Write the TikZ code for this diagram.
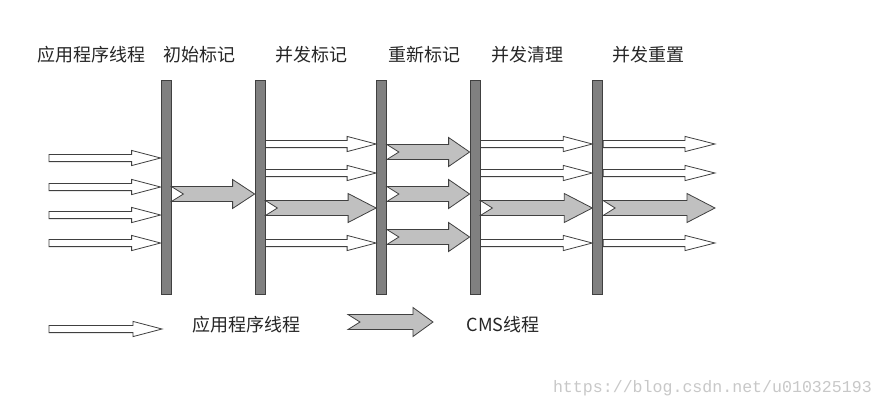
\documentclass[tikz,border=0pt]{standalone}
\usepackage{fontspec}
\setmainfont{Noto Sans CJK SC}
\newfontfamily\wmfont{Liberation Mono}
\usetikzlibrary{calc}
\definecolor{barfill}{HTML}{808080}
\definecolor{barline}{HTML}{404040}
\definecolor{cmsfill}{HTML}{C0C0C0}
\definecolor{arrline}{HTML}{404040}
\definecolor{wmgray}{HTML}{C8C8C8}
\tikzset{
  barbox/.style={rectangle, draw=barline, fill=barfill, line width=0.8pt,
    minimum width=10pt, minimum height=214pt, inner sep=0pt},
  phase/.style={font=\fontsize{18}{20}\selectfont, inner sep=0pt, text=black!85},
  warrow/.style={draw=arrline, fill=white, line width=0.8pt, line join=miter},
  garrow/.style={draw=arrline, fill=cmsfill, line width=0.8pt, line join=miter},
}
% white (application thread) arrow: from, to, y, head length
\newcommand\warr[4]{%
  \draw[warrow] let \p1=(#1), \p2=(#2) in
    (\x1,#3-3.6) -- (\x2-#4,#3-3.6) -- (\x2-#4,#3-7.6) -- (\x2,#3)
    -- (\x2-#4,#3+7.6) -- (\x2-#4,#3+3.6) -- (\x1,#3+3.6) -- cycle;}
% grey (CMS thread) arrow with notched tail: from, to, y, head length
\newcommand\garr[4]{%
  \draw[garrow] let \p1=(#1), \p2=(#2) in
    (\x1,#3-7.5) -- (\x2-#4,#3-7.5) -- (\x2-#4,#3-14.5) -- (\x2,#3)
    -- (\x2-#4,#3+14.5) -- (\x2-#4,#3+7.5) -- (\x1,#3+7.5)
    -- (\x1+12,#3) -- cycle;}
\begin{document}
\begin{tikzpicture}[x=1pt,y=-1pt]
\useasboundingbox[fill=white] (0,0) rectangle (884,408);
% phase bars
\node[barbox] (b1) at (166,187) {};
\node[barbox] (b2) at (260,187) {};
\node[barbox] (b3) at (381.5,187) {};
\node[barbox] (b4) at (475,187) {};
\node[barbox] (b5) at (597.7,187) {};
% titles
\node[phase] (t0) at (91,55) {应用程序线程};
\node[phase] (t1) at (199,55) {初始标记};
\node[phase] (t2) at (311,55) {并发标记};
\node[phase] (t3) at (424,55) {重新标记};
\node[phase] (t4) at (527,55) {并发清理};
\node[phase] (t5) at (648,55) {并发重置};
% start coordinates
\coordinate (s0) at (49,0);
\coordinate (e5) at (715,0);
% application threads before initial mark
\warr{s0}{b1.west}{158}{29}
\warr{s0}{b1.west}{187}{29}
\warr{s0}{b1.west}{215}{29}
\warr{s0}{b1.west}{243}{29}
% initial mark
\garr{b1.east}{b2.west}{194}{22}
% concurrent mark
\warr{b2.east}{b3.west}{144}{29}
\warr{b2.east}{b3.west}{173}{29}
\garr{b2.east}{b3.west}{208}{28}
\warr{b2.east}{b3.west}{243}{29}
% remark
\garr{b3.east}{b4.west}{152}{21}
\garr{b3.east}{b4.west}{194}{21}
\garr{b3.east}{b4.west}{237}{21}
% concurrent sweep
\warr{b4.east}{b5.west}{144}{29}
\warr{b4.east}{b5.west}{173}{29}
\garr{b4.east}{b5.west}{208}{28}
\warr{b4.east}{b5.west}{243}{29}
% concurrent reset
\warr{b5.east}{e5}{144}{30}
\warr{b5.east}{e5}{173}{30}
\garr{b5.east}{e5}{208}{28}
\warr{b5.east}{e5}{243}{30}
% legend
\coordinate (la) at (49,0);
\coordinate (lb) at (162,0);
\coordinate (lc) at (348,0);
\coordinate (ld) at (433,0);
\warr{la}{lb}{329}{29}
\node[phase] (l1) at (246,325) {应用程序线程};
\garr{lc}{ld}{322}{20}
\node[phase] (l2) at (503,325) {CMS线程};
% watermark
\node[anchor=east, inner sep=0pt, text=wmgray, font=\wmfont\fontsize{16.6}{18}\selectfont] (wm) at (872,388) {https://blog.csdn.net/u010325193};
\end{tikzpicture}
\end{document}
